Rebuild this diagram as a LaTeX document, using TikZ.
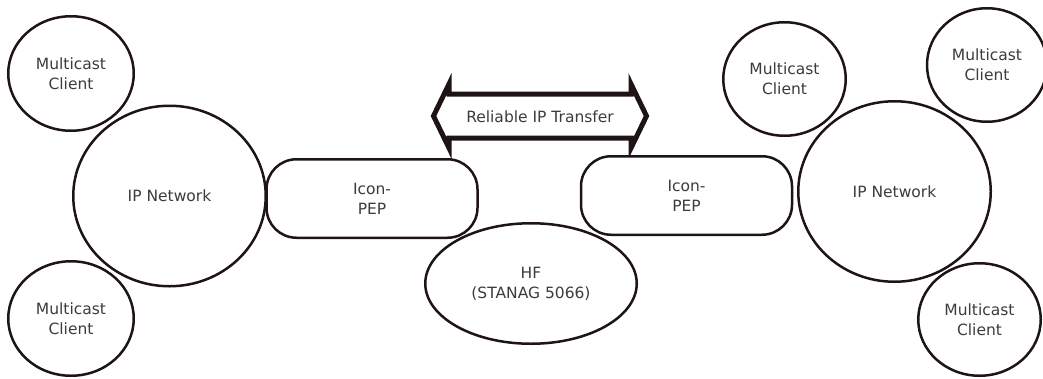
\documentclass[tikz,border=0pt]{standalone}
\usepackage{fontspec}
\setmainfont{DejaVu Sans}
\usetikzlibrary{shapes.geometric}
\definecolor{linec}{RGB}{30,20,20}
\definecolor{textc}{RGB}{60,60,60}
\tikzset{
  base/.style={draw=linec, line width=2.5pt, fill=white, text=textc, align=center, inner sep=0pt,
    font=\fontsize{15.5}{20}\selectfont},
  oval/.style={base, ellipse},
  pepbox/.style={base, rectangle, rounded corners=30pt, minimum width=211pt, minimum height=78.5pt},
  bigarrow/.style={draw=linec, fill=white, line width=5pt, line join=miter, miter limit=10},
}
\begin{document}
\begin{tikzpicture}[x=1pt,y=-1pt]
\useasboundingbox (0,0) rectangle (1043,378);
% big double arrow
\coordinate (a1) at (449,94);
\coordinate (a2) at (449,84);
\coordinate (a3) at (433.5,116);
\coordinate (a4) at (449,148);
\coordinate (a5) at (449,138);
\coordinate (a6) at (631,138);
\coordinate (a7) at (631,148);
\coordinate (a8) at (646.5,116);
\coordinate (a9) at (631,84);
\coordinate (a10) at (631,94);
\draw[bigarrow] (a1) -- (a2) -- (a3) -- (a4) -- (a5) -- (a6) -- (a7) -- (a8) -- (a9) -- (a10) -- cycle;
\node[text=textc, font=\fontsize{15.5}{20}\selectfont] (rel) at (540,117) {Reliable IP Transfer};
% left side
\node[oval, minimum width=125.5pt, minimum height=114.5pt] (lc1) at (71,73.5) {Multicast\\Client};
\node[oval, minimum width=192.5pt, minimum height=180.5pt] (lnet) at (169.5,196) {IP Network};
\node[oval, minimum width=125.5pt, minimum height=114.5pt] (lc2) at (71,318.5) {Multicast\\Client};
\node[pepbox] (lpep) at (372,198.5) {Icon-\\PEP};
% centre
\node[oval, minimum width=211.5pt, minimum height=120.5pt] (hf) at (531,283.5) {HF\\(STANAG 5066)};
% right side
\node[pepbox] (rpep) at (686.5,195.5) {Icon-\\PEP};
\node[oval, minimum width=192.5pt, minimum height=180.5pt] (rnet) at (894.5,191.5) {IP Network};
\node[oval, minimum width=122.5pt, minimum height=113.5pt] (rc1) at (784.5,79) {Multicast\\Client};
\node[oval, minimum width=120pt, minimum height=113.5pt] (rc3) at (987,65) {Multicast\\Client};
\node[oval, minimum width=122.5pt, minimum height=112.5pt] (rc2) at (979.5,319.5) {Multicast\\Client};
\end{tikzpicture}
\end{document}
